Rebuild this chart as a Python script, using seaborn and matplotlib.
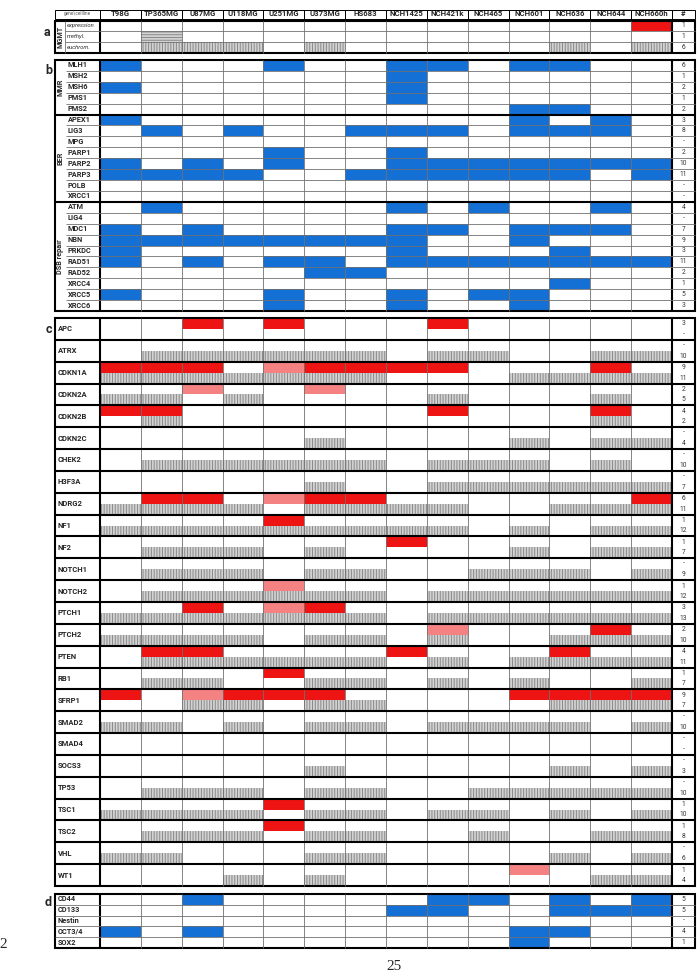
import numpy as np
import matplotlib
matplotlib.use("Agg")
import matplotlib.pyplot as plt
from matplotlib.colors import ListedColormap
from matplotlib.patches import Rectangle
import seaborn as sns

sns.set_theme(style="white")
plt.rcParams["font.family"] = ["Roboto", "DejaVu Sans"]
plt.rcParams["hatch.linewidth"] = 0.7

# ---- data ----------------------------------------------------------------
# codes: 0 empty, 1 blue, 2 red, 3 light red, 4 grey (vertical hatch), 5 grey (horizontal hatch)
cell_lines = ["T98G", "TP365MG", "U87MG", "U118MG", "U251MG", "U373MG", "HS683",
              "NCH1425", "NCH421k", "NCH465", "NCH601", "NCH636", "NCH644", "NCH660h"]

mgmt_rows = ["expression", "methyl.", "euchrom."]
mgmt = ["00000000000002",
        "05000000000000",
        "04440400000404"]

mmr_genes = ["MLH1", "MSH2", "MSH6", "PMS1", "PMS2"]
mmr = ["10001001101100",
       "00000001000000",
       "10000001000000",
       "00000001000000",
       "00000000001100"]

ber_genes = ["APEX1", "LIG3", "MPG", "PARP1", "PARP2", "PARP3", "POLB", "XRCC1"]
ber = ["10000000001010",
       "01010011101110",
       "00000000000000",
       "00001001000000",
       "10101001111111",
       "11110011111101",
       "00000000000000",
       "00000000000000"]

dsb_genes = ["ATM", "LIG4", "MDC1", "NBN", "PRKDC", "RAD51", "RAD52", "XRCC4", "XRCC5", "XRCC6"]
dsb = ["01000001010010",
       "00000000000000",
       "10100001101110",
       "11111111001000",
       "10000001000100",
       "10101101111111",
       "00000110000000",
       "00000000000100",
       "10001001011000",
       "00001001001000"]

c_genes = ["APC", "ATRX", "CDKN1A", "CDKN2A", "CDKN2B", "CDKN2C", "CHEK2", "H3F3A",
           "NDRG2", "NF1", "NF2", "NOTCH1", "NOTCH2", "PTCH1", "PTCH2", "PTEN", "RB1",
           "SFRP1", "SMAD2", "SMAD4", "SOCS3", "TP53", "TSC1", "TSC2", "VHL", "WT1"]
c_methyl = ["00202000200000", "00000000000000", "22203222200020", "00300300000000",
            "22000000200020", "00000000000000", "00000000000000", "00000000000000",
            "02203220000002", "00002000000000", "00000002000000", "00000000000000",
            "00003000000000", "00203200000000", "00000000300020", "02200002000200",
            "00002000000000", "20322200002222", "00000000000000", "00000000000000",
            "00000000000000", "00000000000000", "00002000000000", "00002000000000",
            "00000000000000", "00000000003000"]
c_euchrom = ["00000000000000", "04444440440044", "44444440004444", "44040000400040",
             "04000000000040", "00000400004044", "04444440444040", "00000400444444",
             "44440444400444", "44444444404044", "04440400004044", "04440440044404",
             "04444440444444", "44444440444444", "44440440400444", "04444440404444",
             "04400440404004", "00440440000444", "44040440444404", "00000000000000",
             "00000400000404", "04440440044444", "44440440440404", "04440440040044",
             "44000440000404", "00040400000044"]

d_genes = ["CD44", "CD133", "Nestin", "OCT3/4", "SOX2"]
d_vals = ["00100000110101",
          "00000001100111",
          "00000000000000",
          "10100000001100",
          "00000000001000"]

# ---- layout (pixels) -------------------------------------------------------
W, H = 700, 973
X0, XG, XL, XR, XN = 55, 66, 100, 672, 695
HDR = (9.5, 18.5)
A = (20.5, 53)
B = (60, 311)
C = (318, 886)
D = (894, 948)

BLUE, RED, PINK = "#1570d6", "#ee1414", "#f48282"
GREY_FACE, GREY_HATCH = "#d2d2d2", "#8a8a8a"
THIN, THICK = 0.6, 1.5
cmap = ListedColormap(["white", BLUE, RED, PINK, GREY_FACE, GREY_FACE])

fig = plt.figure(figsize=(W / 100, H / 100), dpi=100)
canvas = fig.add_axes([0, 0, 1, 1], zorder=5)
canvas.set_xlim(0, W)
canvas.set_ylim(H, 0)
canvas.axis("off")
canvas.patch.set_alpha(0)

col_w = (XR - XL) / len(cell_lines)
col_x = XL + col_w * np.arange(len(cell_lines) + 1)


def to_grid(rows):
    return np.array([[int(ch) for ch in r] for r in rows])


def draw_cells(grid, top, bot):
    ax = fig.add_axes([XL / W, 1 - bot / H, (XR - XL) / W, (bot - top) / H])
    sns.heatmap(grid, cmap=cmap, vmin=-0.5, vmax=5.5, cbar=False, ax=ax,
                xticklabels=False, yticklabels=False)
    for (i, j), v in np.ndenumerate(grid):
        if v in (4, 5):
            ax.add_patch(Rectangle((j, i), 1, 1, fill=False, lw=0, ec=GREY_HATCH,
                                   hatch="||||||" if v == 4 else "------"))
    ax.set_axis_off()
    return ax


def count_label(v):
    return "-" if v == 0 else str(v)


def frame(top, bot):
    canvas.add_patch(Rectangle((X0, top), XN - X0, bot - top, fill=False, ec="black", lw=THICK))
    canvas.vlines(col_x[1:-1], top, bot, color="#707070", lw=THIN)
    canvas.vlines([XL, XR], top, bot, color="black", lw=THICK)


# ---- header ---------------------------------------------------------------
hx = [X0] + list(col_x) + [XN]
for k in range(len(hx) - 1):
    canvas.add_patch(Rectangle((hx[k], HDR[0]), hx[k + 1] - hx[k], HDR[1] - HDR[0],
                               fill=False, ec="black", lw=0.7))
hy = (HDR[0] + HDR[1]) / 2
canvas.text((X0 + XL) / 2, hy, "gene\\cellline", fontsize=3.4, color="#555555",
            ha="center", va="center")
for k, name in enumerate(cell_lines):
    canvas.text(col_x[k] + col_w / 2, hy, name, fontsize=5.6, fontweight="bold",
                ha="center", va="center")
canvas.text((XR + XN) / 2, hy, "#", fontsize=5.5, fontweight="bold", ha="center", va="center")

# ---- section a: MGMT -------------------------------------------------------
ga = to_grid(mgmt)
draw_cells(ga, *A)
rh = (A[1] - A[0]) / len(mgmt_rows)
frame(*A)
canvas.vlines(XG - 1, A[0], A[1], color="#707070", lw=THIN)
canvas.hlines([A[0] + rh * k for k in range(1, len(mgmt_rows))], XG - 1, XN, color="#707070", lw=THIN)
for k, lab in enumerate(mgmt_rows):
    yc = A[0] + rh * (k + 0.5)
    canvas.text(XG + 1, yc, lab, fontsize=4.2, style="italic", color="#333333", va="center")
    canvas.text((XR + XN) / 2, yc, count_label(int((ga[k] > 0).sum())), fontsize=4.8,
                color="#333333", ha="center", va="center")
canvas.text(60.5, (A[0] + A[1]) / 2, "MGMT", rotation=90, fontsize=5.2, fontweight="bold",
            ha="center", va="center")
canvas.text(46.5, 33, "a", fontsize=9, fontweight="bold", ha="center", va="center")

# ---- section b: DNA repair ----------------------------------------------------
groups = [("MMR", mmr_genes, mmr), ("BER", ber_genes, ber), ("DSB repair", dsb_genes, dsb)]
b_rows = mmr + ber + dsb
gb = to_grid(b_rows)
draw_cells(gb, *B)
rh = (B[1] - B[0]) / len(b_rows)
frame(*B)
start = 0
for gname, genes, rows in groups:
    n = len(genes)
    for k in range(n):
        r = start + k
        yc = B[0] + rh * (r + 0.5)
        canvas.text(XG + 2, yc, genes[k], fontsize=5.3, fontweight="bold", va="center")
        canvas.text((XR + XN) / 2, yc, count_label(int((gb[r] > 0).sum())), fontsize=4.8,
                    color="#333333", ha="center", va="center")
        if k > 0:
            canvas.hlines(B[0] + rh * r, XG, XN, color="#707070", lw=THIN)
    if start > 0:
        canvas.hlines(B[0] + rh * start, X0, XN, color="black", lw=THICK)
    canvas.text(60.5, B[0] + rh * (start + n / 2), gname, rotation=90, fontsize=5.2,
                fontweight="bold", ha="center", va="center")
    start += n
canvas.text(48.5, 70, "b", fontsize=9, fontweight="bold", ha="center", va="center")

# ---- section c: genes, methylation (top) and euchromatin (bottom) -------------------
gm = to_grid(c_methyl)
ge = to_grid(c_euchrom)
gc = np.empty((2 * len(c_genes), len(cell_lines)), dtype=int)
gc[0::2] = gm
gc[1::2] = ge
draw_cells(gc, *C)
gh = (C[1] - C[0]) / len(c_genes)
frame(*C)
for k, gene in enumerate(c_genes):
    y = C[0] + gh * k
    if k > 0:
        canvas.hlines(y, X0, XN, color="black", lw=THICK)
    canvas.text(X0 + 2.5, y + gh / 2, gene, fontsize=5.5, fontweight="bold", va="center")
    canvas.text((XR + XN) / 2, y + gh * 0.27, count_label(int((gm[k] > 0).sum())),
                fontsize=4.8, color="#333333", ha="center", va="center")
    canvas.text((XR + XN) / 2, y + gh * 0.75, count_label(int((ge[k] > 0).sum())),
                fontsize=4.8, color="#333333", ha="center", va="center")
canvas.text(48.5, 329.5, "c", fontsize=9, fontweight="bold", ha="center", va="center")

# ---- section d: stem cell markers -------------------------------------------
gd = to_grid(d_vals)
draw_cells(gd, *D)
rh = (D[1] - D[0]) / len(d_genes)
frame(*D)
canvas.hlines([D[0] + rh * k for k in range(1, len(d_genes))], X0, XN, color="#707070", lw=THIN)
for k, gene in enumerate(d_genes):
    yc = D[0] + rh * (k + 0.5)
    canvas.text(X0 + 2.5, yc, gene, fontsize=5.3, fontweight="bold", va="center")
    canvas.text((XR + XN) / 2, yc, count_label(int((gd[k] > 0).sum())), fontsize=4.8,
                color="#333333", ha="center", va="center")
canvas.text(48.5, 903, "d", fontsize=9, fontweight="bold", ha="center", va="center")

# ---- page marks -------------------------------------------------------------
canvas.text(-1, 944, "2", fontsize=11, family=["Liberation Serif", "DejaVu Serif"], va="center")
canvas.text(394, 966, "25", fontsize=11, family=["Liberation Serif", "DejaVu Serif"],
            ha="center", va="center")

fig.savefig("out.png", dpi=100)
